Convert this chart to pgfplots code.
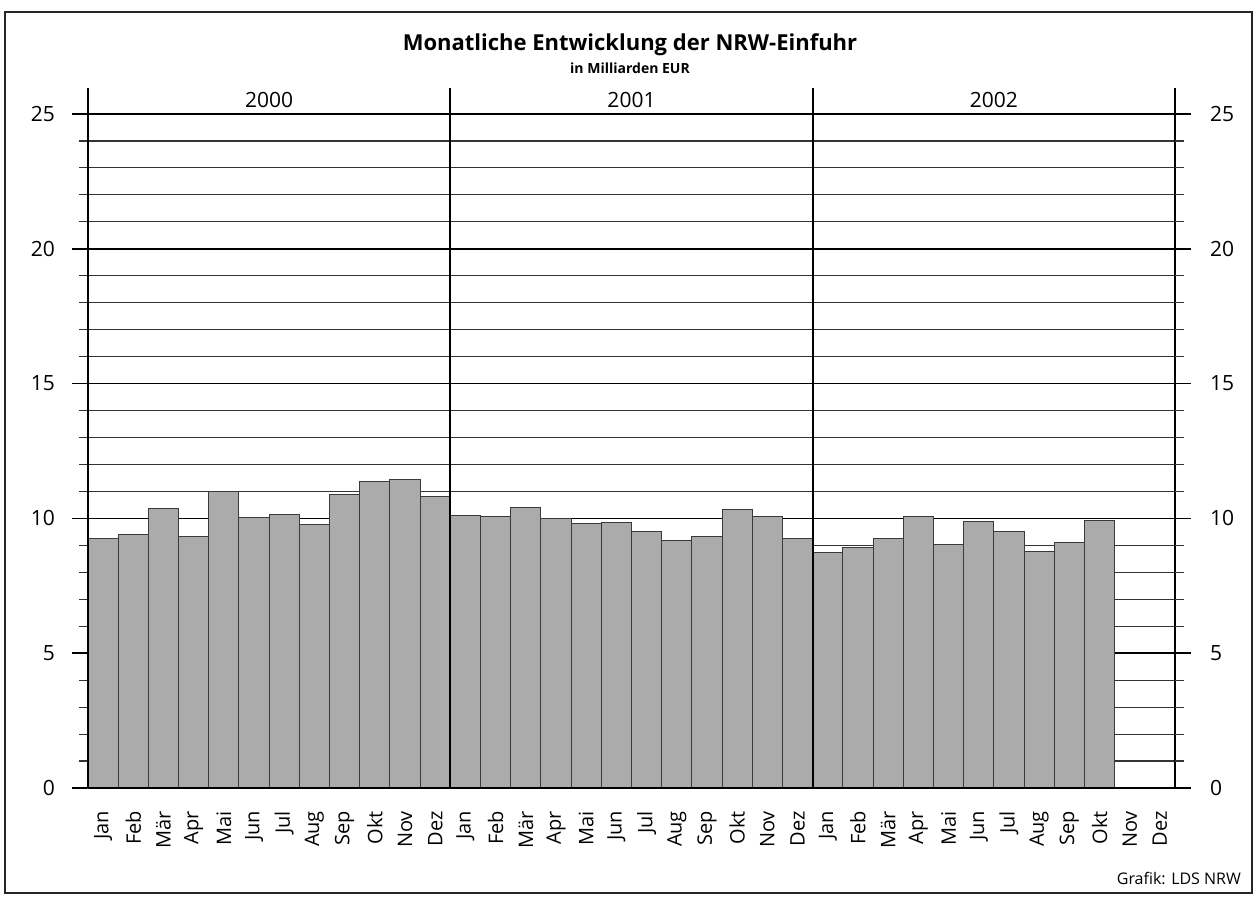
\documentclass[border=0pt]{standalone}
\usepackage{pgfplots}
\pgfplotsset{compat=1.18}
\usepackage{fontspec}
\setmainfont{Open Sans}
\definecolor{barfill}{HTML}{ABABAB}
\definecolor{baredge}{HTML}{3A3A3A}
\definecolor{minorgrid}{HTML}{333333}
\pgfplotstableread{
x y
0 9.24
1 9.41
2 10.37
3 9.32
4 10.99
5 10.04
6 10.15
7 9.78
8 10.89
9 11.36
10 11.45
11 10.82
12 10.09
13 10.08
14 10.42
15 10.01
16 9.82
17 9.85
18 9.50
19 9.19
20 9.32
21 10.34
22 10.06
23 9.25
24 8.74
25 8.93
26 9.26
27 10.06
28 9.04
29 9.89
30 9.52
31 8.78
32 9.11
33 9.93
}\imports
\begin{document}
\begin{tikzpicture}
\useasboundingbox (-44pt,-55.5pt) rectangle (584.5pt,394pt);
\draw[line width=0.75pt, black!85] (-41.5pt,-52.5pt) rectangle (582pt,388pt);
\node[font=\bfseries\fontsize{11}{13}\selectfont] at (271pt,371.5pt) {Monatliche Entwicklung der NRW-Einfuhr};
\node[font=\bfseries\fontsize{7}{8}\selectfont] at (271pt,360pt) {in Milliarden EUR};
\node[font=\fontsize{8}{9}\selectfont, anchor=base east] at (580pt,-48pt) {Grafik: LDS NRW};
\begin{axis}[
  at={(0,0)}, anchor=south west,
  scale only axis, width=543.5pt, height=337pt,
  xmin=-0.5, xmax=35.5, ymin=0, ymax=25,
  axis line style={draw=none},
  clip=false,
  xtick={0,...,35},
  xticklabels={Jan,Feb,Mär,Apr,Mai,Jun,Jul,Aug,Sep,Okt,Nov,Dez,Jan,Feb,Mär,Apr,Mai,Jun,Jul,Aug,Sep,Okt,Nov,Dez,Jan,Feb,Mär,Apr,Mai,Jun,Jul,Aug,Sep,Okt,Nov,Dez},
  xticklabel style={rotate=90, anchor=east, font=\fontsize{10}{11}\selectfont},
  xtick style={draw=none},
  ytick={0,5,...,25},
  minor y tick num=4,
  ytick pos=left,
  tick align=outside,
  major tick length=8pt,
  minor tick length=4.5pt,
  major tick style={black, line width=0.75pt},
  minor tick style={minorgrid, line width=0.55pt},
  ymajorgrids, yminorgrids,
  major grid style={black, line width=0.75pt},
  minor grid style={minorgrid, line width=0.55pt},
  yticklabel style={font=\fontsize{10.5}{12}\selectfont, xshift=-5pt},
  /pgf/number format/assume math mode=true,
]
\addplot[ybar, bar width=1, bar shift=0, fill=barfill, draw=baredge, line width=0.5pt] table[x=x,y=y] {\imports};
\draw[black, line width=1pt] (axis cs:-0.5,0) -- (axis cs:-0.5,25.96);
\draw[black, line width=1pt] (axis cs:11.5,0) -- (axis cs:11.5,25.96);
\draw[black, line width=1pt] (axis cs:23.5,0) -- (axis cs:23.5,25.96);
\draw[black, line width=1pt] (axis cs:35.5,0) -- (axis cs:35.5,25.96);
\draw[black, line width=1pt] (axis cs:-0.5,0) -- (axis cs:35.5,0);
\node[font=\fontsize{10.5}{12}\selectfont] at (axis cs:5.5,25.52) {2000};
\node[font=\fontsize{10.5}{12}\selectfont] at (axis cs:17.5,25.52) {2001};
\node[font=\fontsize{10.5}{12}\selectfont] at (axis cs:29.5,25.52) {2002};
\end{axis}
\begin{axis}[
  at={(0,0)}, anchor=south west,
  scale only axis, width=543.5pt, height=337pt,
  xmin=-0.5, xmax=35.5, ymin=0, ymax=25,
  axis line style={draw=none},
  xtick=\empty,
  ytick={0,5,...,25},
  minor y tick num=4,
  ytick pos=right, yticklabel pos=right,
  tick align=outside,
  major tick length=8pt,
  minor tick length=4.5pt,
  major tick style={black, line width=0.75pt},
  minor tick style={minorgrid, line width=0.55pt},
  yticklabel style={font=\fontsize{10.5}{12}\selectfont, xshift=6pt},
  /pgf/number format/assume math mode=true,
]
\addplot[draw=none] coordinates {(0,0)};
\end{axis}
\end{tikzpicture}
\end{document}
